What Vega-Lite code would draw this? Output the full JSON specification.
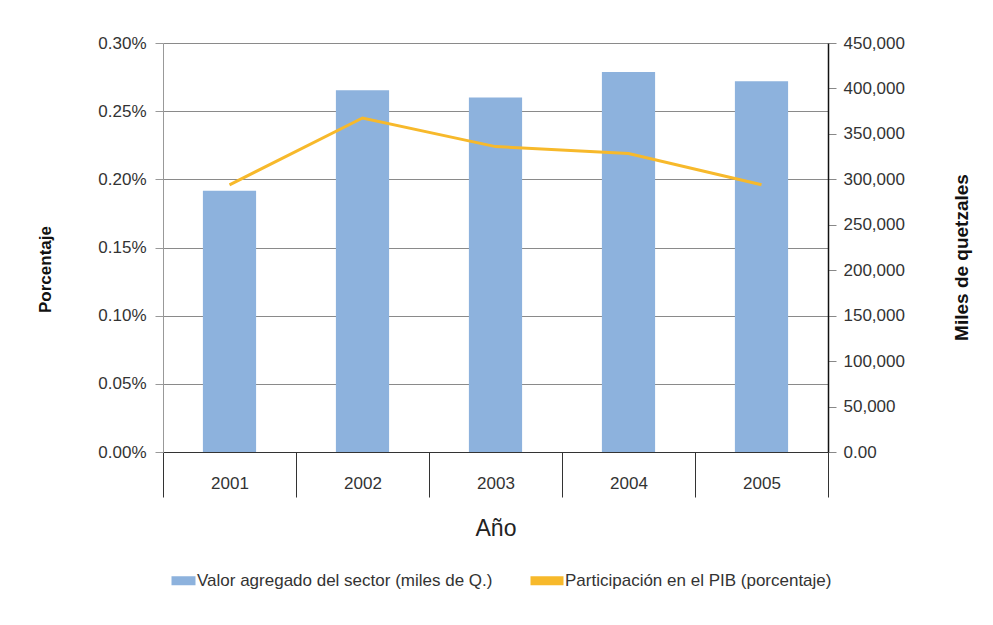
{
  "$schema": "https://vega.github.io/schema/vega-lite/v6.json",
  "width": 665,
  "height": 409,
  "autosize": {"type": "none"},
  "padding": {"left": 163, "top": 43, "right": 165, "bottom": 173},
  "background": "white",
  "config": {"font": "Liberation Sans", "view": {"stroke": null}},
  "data": {
    "values": [
      {"anio": "2001", "valor": 287500, "pib": 0.00196},
      {"anio": "2002", "valor": 398000, "pib": 0.00245},
      {"anio": "2003", "valor": 390000, "pib": 0.00224},
      {"anio": "2004", "valor": 418000, "pib": 0.00219},
      {"anio": "2005", "valor": 408000, "pib": 0.00196}
    ]
  },
  "encoding": {
    "x": {
      "field": "anio",
      "type": "nominal",
      "sort": null,
      "scale": {"paddingInner": 0, "paddingOuter": 0},
      "axis": {
        "title": "Año",
        "labelAngle": 0,
        "tickBand": "extent",
        "tickSize": 45,
        "tickColor": "#333333",
        "domainColor": "#333333",
        "labelFontSize": 17,
        "labelColor": "#333333",
        "labelPadding": -22,
        "titleFontSize": 23,
        "titleFontWeight": "normal",
        "titleColor": "#222222",
        "titlePadding": 20,
        "grid": false
      }
    }
  },
  "layer": [
    {
      "mark": {"type": "bar", "width": {"band": 0.4}},
      "encoding": {
        "y": {
          "field": "valor",
          "type": "quantitative",
          "scale": {"domain": [0, 450000], "nice": false},
          "axis": {
            "orient": "right",
            "title": "Miles de quetzales",
            "values": [0, 50000, 100000, 150000, 200000, 250000, 300000, 350000, 400000, 450000],
            "labelExpr": "datum.value == 0 ? '0.00' : format(datum.value, ',')",
            "grid": false,
            "domainColor": "#111111",
            "domainWidth": 1.5,
            "tickColor": "#888888",
            "tickSize": 8,
            "labelPadding": 7,
            "labelFontSize": 17,
            "labelColor": "#333333",
            "titleFontSize": 19,
            "titleFontWeight": "bold",
            "titleColor": "#111111",
            "titleAngle": -90,
            "titleBaseline": "top",
            "titlePadding": 48,
            "titleY": 214
          }
        },
        "color": {
          "datum": "Valor agregado del sector (miles de Q.)",
          "type": "nominal",
          "scale": {
            "domain": ["Valor agregado del sector (miles de Q.)", "Participación en el PIB (porcentaje)"],
            "range": ["#8DB2DD", "#F7B92B"]
          },
          "legend": {
            "orient": "none",
            "direction": "horizontal",
            "title": null,
            "legendX": 19,
            "legendY": 529,
            "symbolSize": 100,
            "symbolType": "M-3.8,-0.9H1V0.9H-3.8Z",
            "labelFontSize": 17,
            "labelLimit": 0,
            "labelColor": "#333333",
            "labelOffset": -2,
            "columnPadding": 37,
            "encode": {
              "symbols": {
                "update": {
                  "fill": {"scale": "color", "field": "value"},
                  "stroke": {"value": "transparent"},
                  "strokeWidth": {"value": 0},
                  "shape": {"signal": "indexof(datum.value, 'Valor') == 0 ? 'M-3.8,-0.9H1V0.9H-3.8Z' : 'M-5.6,-0.9H1V0.9H-5.6Z'"}
                }
              }
            }
          }
        }
      }
    },
    {
      "mark": {"type": "line", "strokeWidth": 3},
      "encoding": {
        "y": {
          "field": "pib",
          "type": "quantitative",
          "scale": {"domain": [0, 0.003], "nice": false},
          "axis": {
            "orient": "left",
            "title": "Porcentaje",
            "format": ".2%",
            "values": [0, 0.0005, 0.001, 0.0015, 0.002, 0.0025, 0.003],
            "grid": true,
            "gridColor": "#8a8a8a",
            "domainColor": "#999999",
            "tickColor": "#999999",
            "tickSize": 8,
            "labelPadding": 9,
            "labelFontSize": 17,
            "labelColor": "#333333",
            "titleFontSize": 17,
            "titleFontWeight": "bold",
            "titleColor": "#111111",
            "titlePadding": 43,
            "titleY": 226
          }
        },
        "color": {"datum": "Participación en el PIB (porcentaje)", "type": "nominal"}
      }
    }
  ],
  "resolve": {"scale": {"y": "independent"}}
}
